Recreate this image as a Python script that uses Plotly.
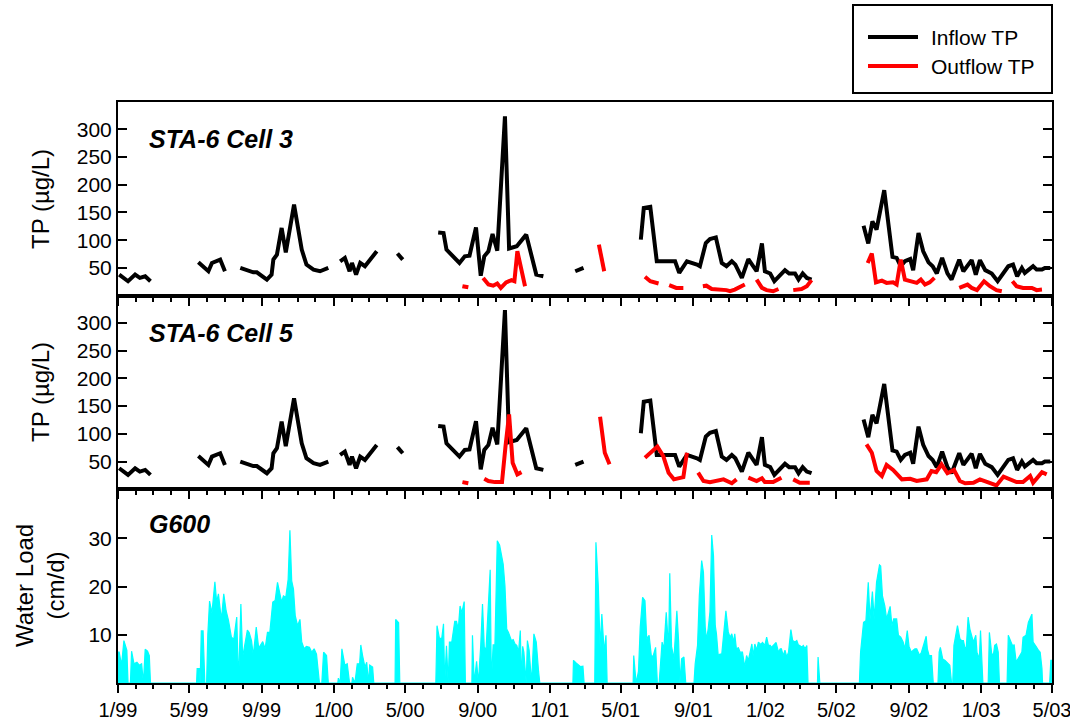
import pandas as pd
import plotly.graph_objects as go

BASE = pd.Timestamp("1999-01-01")
X_RANGE = ["1999-01-01", "2003-05-01"]
X_TICK_DATES = ["1999-01-01", "1999-05-01", "1999-09-01", "2000-01-01", "2000-05-01",
                "2000-09-01", "2001-01-01", "2001-05-01", "2001-09-01", "2002-01-01",
                "2002-05-01", "2002-09-01", "2003-01-01", "2003-05-01"]
X_TICK_LABELS = ["1/99", "5/99", "9/99", "1/00", "5/00", "9/00", "1/01", "5/01", "9/01",
                 "1/02", "5/02", "9/02", "1/03", "5/03"]

# ---------------- Inflow TP (same inflow for both cells), days since 1/1/99 ----------------
INFLOW_DAY = [
    [2, 17, 29, 37, 46, 55],
    [136, 153, 159, 173, 181],
    [207, 229, 235, 252, 260, 263, 269, 277, 284, 298, 311, 319, 331, 342, 356],
    [376, 384, 392, 396, 403, 410, 418, 427, 438],
    [473, 482],
    [542, 551, 556, 568, 578, 587, 595, 606, 614, 620, 627, 634, 642, 655, 662, 675, 691, 708, 720],
    [774, 788],
    [885, 890, 901, 912, 923, 943, 950, 963, 980, 985, 995, 1002, 1012, 1022, 1030, 1039, 1045,
     1056, 1067, 1081, 1090, 1095, 1104, 1111, 1129, 1136, 1146, 1152, 1159, 1166, 1174],
    [1262, 1270, 1277, 1284, 1297, 1311, 1318, 1325, 1332, 1341, 1346, 1355, 1363, 1372, 1379, 1386,
     1395, 1404, 1411, 1424, 1431, 1445, 1452, 1459, 1468, 1479, 1489, 1507, 1515, 1522, 1530, 1535,
     1549, 1555, 1564, 1569, 1578],
]
INFLOW_TP = [
    [38, 26, 38, 32, 35, 26],
    [60, 44, 59, 65, 44],
    [50, 42, 42, 29, 38, 65, 74, 122, 78, 164, 83, 56, 47, 44, 50],
    [62, 68, 44, 59, 38, 59, 53, 65, 80],
    [76, 65],
    [114, 113, 83, 70, 59, 71, 72, 123, 36, 71, 80, 111, 81, 323, 85, 89, 110, 38, 35],
    [44, 50],
    [101, 158, 160, 62, 62, 62, 41, 62, 56, 53, 95, 102, 105, 59, 53, 62, 56,
     32, 66, 44, 94, 44, 40, 26, 46, 40, 40, 29, 40, 32, 29],
    [126, 94, 134, 119, 190, 70, 68, 53, 62, 66, 46, 113, 80, 60, 53, 40,
     68, 40, 29, 65, 44, 64, 38, 64, 46, 40, 26, 53, 56, 35, 50, 41,
     53, 47, 47, 50, 50],
]

# ---------------- Outflow TP, Cell 3 ----------------
OUT3_DAY = [
    [583, 593],
    [618, 627, 635, 642, 648, 657, 666, 671, 676, 682, 689],
    [814, 823],
    [892, 901, 915],
    [933, 945, 957],
    [990, 996, 1005, 1019, 1030, 1036, 1044, 1061],
    [1081, 1090, 1098, 1109, 1118],
    [1143, 1157, 1166, 1174],
    [1269, 1276, 1283, 1293, 1301, 1312, 1318, 1325, 1332, 1343, 1352, 1359, 1366, 1374, 1382],
    [1424, 1434, 1438, 1445, 1454, 1466, 1476, 1487, 1496],
    [1514, 1521, 1532, 1547, 1555, 1564],
]
OUT3_TP = [
    [17, 15],
    [32, 20, 18, 22, 14, 24, 28, 26, 80, 50, 17],
    [92, 44],
    [34, 26, 22],
    [19, 14, 14],
    [17, 18, 12, 11, 10, 8, 11, 20],
    [29, 14, 10, 8, 12],
    [10, 12, 17, 28],
    [59, 76, 24, 27, 23, 24, 20, 65, 29, 26, 23, 29, 20, 24, 32],
    [14, 17, 20, 14, 10, 26, 17, 10, 8],
    [26, 17, 14, 14, 10, 11],
]

# ---------------- Outflow TP, Cell 5 ----------------
OUT5_DAY = [
    [583, 593],
    [620, 627, 638, 650, 656, 662, 668, 676, 683],
    [816, 824, 832],
    [892, 901, 913, 923, 932, 941, 957, 963],
    [982, 991, 1002, 1013, 1025, 1039, 1047],
    [1067, 1081, 1090, 1095, 1109, 1123],
    [1143, 1154, 1171],
    [1267, 1276, 1284, 1293, 1301, 1312, 1327, 1341, 1352, 1369, 1377, 1385, 1394, 1404, 1415,
     1425, 1434, 1448, 1459, 1473, 1487, 1499, 1510, 1521, 1532, 1544, 1549, 1564, 1572],
]
OUT5_TP = [
    [13, 11],
    [19, 15, 13, 13, 78, 135, 48, 27, 31],
    [131, 66, 45],
    [57, 66, 77, 60, 30, 18, 22, 66],
    [30, 15, 13, 15, 18, 11, 18],
    [21, 15, 20, 13, 13, 21],
    [18, 12, 12],
    [81, 66, 33, 24, 44, 35, 18, 19, 15, 18, 33, 31, 45, 29, 35,
     15, 11, 12, 18, 13, 7, 23, 18, 13, 13, 24, 12, 31, 27],
]

# ---------------- G600 water load (cm/d) ----------------
LOAD_DAY_1999 = [0, 2, 6, 10, 15, 17, 21, 23, 27, 32, 36, 40, 43, 46, 50, 53, 55, 133,
                 134, 138, 139, 141, 144, 147, 150, 152, 155, 159, 164, 167, 170, 173, 175, 179,
                 183, 187, 192, 196, 201, 204, 208, 211, 215, 219, 222, 226, 229, 234, 238, 240,
                 245, 249, 253, 257, 262, 266, 270, 274, 277, 280, 284, 288, 291, 294, 297, 300,
                 304, 308, 311, 315, 319, 324, 328, 332, 336, 341, 345, 348, 353, 356]
LOAD_1999 = [6.4, 6.4, 3.7, 8.8, 6.8, 0, 0, 6.6, 4, 4.3, 3.7, 4, 0, 7, 6.6, 5.7, 0, 0,
             3, 3, 0, 10.8, 10.8, 0, 0, 10, 17, 14.5, 21, 16.8, 18.5, 14.5, 13.1, 18.5,
             15, 13, 9.5, 9.1, 13.7, 0, 16.4, 5.4, 8.5, 11, 10.5, 8.8, 5.7, 11.6, 7.4, 7.6,
             8.6, 7.1, 10.5, 10.5, 16.8, 17.1, 20.9, 18.5, 16.8, 18.1, 17.8, 21.5, 31.7, 21.2, 19.5, 14,
             11.9, 13.2, 8.5, 7.1, 7.6, 7.4, 6.4, 7.1, 6, 0, 0, 6.4, 5.7, 0]

LOAD_DAY_2000 = [372, 373, 376, 379, 384, 388, 392, 396, 397, 401, 405, 409, 411, 414, 418, 421,
                 424, 426, 431, 433, 469, 470, 475, 477, 538, 540, 544, 548, 551, 553, 556, 559,
                 561, 565, 568, 570, 573, 576, 579, 582, 586, 588, 599, 600, 603, 607, 610, 614,
                 617, 620, 623, 627, 630, 632, 635, 638, 642, 646, 649, 652, 655, 658, 661, 664,
                 666, 669, 672, 675, 678, 681, 683, 685, 687, 691, 693, 696, 700, 704, 708, 712, 714]
LOAD_2000 = [0, 1, 0, 7.1, 3.7, 4, 0, 0, 1.2, 0, 4, 4, 7.9, 5.7, 3.3, 4.3,
             0, 3.7, 3.3, 0, 0, 13.2, 12.5, 0, 0, 11.9, 9.3, 9.2, 12.3, 0, 7.7, 0,
             8.5, 8.5, 11.2, 12.8, 12.8, 11.2, 16, 14.6, 16.9, 0, 0, 9.9, 0, 4.5, 0, 7.8,
             16.4, 7.4, 7, 17.4, 23.5, 0, 7.9, 7.9, 29.5, 28.6, 26.8, 24.7, 20.2, 11.2, 10.5, 9.2,
             8.8, 9, 8.1, 7.8, 6.4, 10.9, 0, 7.6, 6.4, 0, 8.8, 6.8, 0, 10.2, 8.5, 2.3, 0]

LOAD_DAY_2001 = [770, 771, 775, 779, 783, 787, 789, 807, 809, 813, 816, 819, 823, 826, 828, 872,
                 873, 877, 881, 884, 888, 892, 895, 899, 903, 906, 910, 913, 916, 921, 924, 928,
                 932, 934, 937, 941, 946, 949, 951, 954, 958, 961, 975, 977, 981, 984, 988, 991,
                 994, 996, 999, 1002, 1005, 1008, 1011, 1013, 1016, 1019, 1022, 1026, 1029, 1033,
                 1036, 1039, 1042, 1044, 1047, 1050, 1053, 1057, 1061, 1064, 1067, 1070, 1073,
                 1075, 1078, 1081, 1084, 1088, 1091, 1095]
LOAD_2001 = [0, 4.7, 4.2, 3.7, 3.4, 3.5, 0, 0, 29.2, 20.2, 7.4, 14.3, 6.4, 9.9, 0, 0,
             5.7, 0, 2.4, 11.6, 17.8, 17.1, 9.2, 9.9, 5.4, 5.7, 7.4, 0, 0, 8.5, 7.1, 14.7,
             7.1, 22.8, 7.6, 5, 15, 8.5, 0, 5, 5.4, 0, 0, 4, 7.8, 18.1, 25.4, 23,
             11.6, 9, 11.2, 14.8, 30.7, 26.4, 11.9, 10.2, 5.7, 6, 6, 11.2, 15, 10.6,
             9.5, 10.2, 8.5, 10.2, 6.8, 7.4, 6.4, 6.4, 3.3, 5.7, 4.7, 6.4, 8.1,
             5.7, 8.1, 6.8, 8.5, 8, 8.4, 7.8]

LOAD_DAY_2002 = [1098, 1101, 1104, 1106, 1110, 1114, 1118, 1121, 1123, 1126, 1129, 1132, 1135,
                 1138, 1139, 1142, 1146, 1149, 1152, 1154, 1157, 1160, 1163, 1166, 1168, 1184,
                 1185, 1188, 1255, 1257, 1262, 1266, 1270, 1273, 1277, 1280, 1284, 1289, 1291,
                 1294, 1298, 1301, 1307, 1310, 1313, 1318, 1321, 1325, 1329, 1332, 1336, 1339,
                 1343, 1346, 1349, 1352, 1355, 1357, 1360, 1363, 1368, 1370, 1373, 1377, 1380,
                 1388, 1390, 1392, 1396, 1400, 1403, 1405, 1408, 1411, 1413, 1415, 1418, 1421,
                 1425, 1428, 1431, 1434, 1436, 1439, 1442, 1445, 1448, 1452, 1454, 1458, 1460,
                 1464, 1473, 1475, 1479, 1482, 1484, 1487, 1490, 1492, 1505, 1507, 1511, 1514,
                 1517, 1520, 1522, 1526, 1530, 1532, 1537, 1541, 1544, 1547, 1549, 1552, 1555,
                 1558, 1561, 1564, 1565, 1577, 1579, 1581]
LOAD_2002 = [9.5, 7.8, 7.8, 7.4, 7.9, 8.4, 6.4, 7.1, 7.1, 5.7, 6.8, 5.4, 6.4,
             9.2, 11.1, 8.8, 8.5, 8.8, 7.8, 7.8, 7.4, 7.8, 7.1, 7.8, 0, 0,
             5.4, 0, 0, 6.4, 12.6, 12.9, 20.9, 13.3, 19, 13.3, 20.9, 24.5, 24.3,
             18.1, 16, 13.3, 15.9, 11.9, 13.3, 13.3, 9.9, 9.5, 8.5, 7.1, 10.9, 7.6,
             6.4, 6.8, 7.1, 7.1, 6.4, 5.7, 6.4, 7.8, 9.7, 7.1, 5.7, 5.7, 0,
             0, 6.4, 7.4, 5, 4.7, 4.3, 4.2, 3.7, 0, 0, 7.8, 9.5, 11.9,
             9.2, 8.8, 8.8, 7.1, 7.4, 13.7, 11.2, 9.9, 8.5, 9.9, 6.4, 5, 10.9,
             0, 0, 10.5, 6, 6, 7.8, 8.1, 6.4, 0, 0, 9.9, 8.8, 7.8,
             7.9, 4.7, 4.7, 5.7, 6.4, 9.5, 9.9, 12.6, 13.3, 14.3, 8.5, 7.8, 7.4,
             6.8, 6.4, 3, 0, 0, 4.7, 4.7]

TP_TICKS = [50, 100, 150, 200, 250, 300]
LOAD_TICKS = [10, 20, 30]

FONT = "Liberation Sans, Arial, sans-serif"


def to_dates(days):
    return [BASE + pd.Timedelta(days=d) for d in days]


def segments(day_lists, val_lists):
    xs, ys = [], []
    for d, v in zip(day_lists, val_lists):
        xs += to_dates(d) + [None]
        ys += list(v) + [None]
    return xs, ys


fig = go.Figure()

LW = 4
for xa, ya, out_d, out_v in [("x", "y", OUT3_DAY, OUT3_TP), ("x2", "y2", OUT5_DAY, OUT5_TP)]:
    ix, iy = segments(INFLOW_DAY, INFLOW_TP)
    fig.add_trace(go.Scatter(x=ix, y=iy, mode="lines", xaxis=xa, yaxis=ya,
                             line=dict(color="black", width=LW), connectgaps=False,
                             showlegend=False, name="Inflow TP"))
    ox, oy = segments(out_d, out_v)
    fig.add_trace(go.Scatter(x=ox, y=oy, mode="lines", xaxis=xa, yaxis=ya,
                             line=dict(color="#FF0000", width=LW), connectgaps=False,
                             showlegend=False, name="Outflow TP"))

load_days = LOAD_DAY_1999 + LOAD_DAY_2000 + LOAD_DAY_2001 + LOAD_DAY_2002
load_vals = LOAD_1999 + LOAD_2000 + LOAD_2001 + LOAD_2002
fig.add_trace(go.Scatter(x=to_dates(load_days), y=load_vals, mode="lines", xaxis="x3", yaxis="y3",
                         fill="tozeroy", fillcolor="#00FFFF",
                         line=dict(color="#00FFFF", width=1.2), showlegend=False, name="G600"))

xcommon = dict(type="date", range=X_RANGE, tickmode="array", tickvals=X_TICK_DATES,
               ticktext=X_TICK_LABELS,
               ticks="outside", ticklen=8, tickwidth=2, tickcolor="black",
               showline=True, linewidth=2, linecolor="black", mirror=True,
               showgrid=False, zeroline=False, automargin=False,
               minor=dict(tickmode="linear", dtick="M1", tick0="1999-01-01", ticks="outside",
                          ticklen=4, tickwidth=1.5, tickcolor="black", showgrid=False),
               tickfont=dict(family=FONT, size=20, color="black"))
ycommon = dict(ticks="inside", ticklen=9, tickwidth=2, tickcolor="black",
               showline=True, linewidth=2, linecolor="black", mirror="ticks",
               showgrid=False, zeroline=False, automargin=False,
               tickfont=dict(family=FONT, size=21, color="black"))

fig.update_layout(
    width=1070, height=727,
    margin=dict(l=118, r=18, t=102, b=44, autoexpand=False),
    plot_bgcolor="white", paper_bgcolor="white",
    xaxis=dict(xcommon, anchor="y", showticklabels=False),
    xaxis2=dict(xcommon, anchor="y2", matches="x", showticklabels=False),
    xaxis3=dict(xcommon, anchor="y3", matches="x", showticklabels=True,
                ticklabelstandoff=0, ticklabeloverflow="allow"),
    yaxis=dict(ycommon, domain=[2 / 3, 1], range=[0, 349], tickvals=TP_TICKS, anchor="x"),
    yaxis2=dict(ycommon, domain=[1 / 3, 2 / 3], range=[0, 349], tickvals=TP_TICKS, anchor="x2"),
    yaxis3=dict(ycommon, domain=[0, 1 / 3], range=[0, 40.2], tickvals=LOAD_TICKS, anchor="x3"),
    showlegend=False,
)

H = 581.0


def py(pix):
    return (683 - pix) / H


def px(pix):
    return (pix - 118) / 934.0


ann = []
for text, ypix in [("STA-6 Cell 3", 139), ("STA-6 Cell 5", 333), ("G600", 524)]:
    ann.append(dict(text="<b><i>" + text + "</i></b>", x=px(147), y=py(ypix), xref="paper", yref="paper",
                    xanchor="left", yanchor="middle", showarrow=False,
                    font=dict(family=FONT, size=25, color="black")))
for text, ypix in [("TP (µg/L)", 199), ("TP (µg/L)", 392), ("Water Load<br>(cm/d)", 586)]:
    ann.append(dict(text=text, x=px(40), y=py(ypix), xref="paper", yref="paper", textangle=-90,
                    xanchor="center", yanchor="middle", showarrow=False,
                    font=dict(family=FONT, size=24, color="black")))

# legend box
shapes = [dict(type="rect", xref="paper", yref="paper", x0=px(853), x1=px(1052), y0=py(93), y1=py(5),
               line=dict(color="black", width=2), fillcolor="white")]
for color, label, ypix in [("black", "Inflow TP", 37), ("#FF0000", "Outflow TP", 66)]:
    shapes.append(dict(type="line", xref="paper", yref="paper", x0=px(868), x1=px(918),
                       y0=py(ypix), y1=py(ypix), line=dict(color=color, width=4)))
    ann.append(dict(text=label, x=px(929), y=py(ypix + 1), xref="paper", yref="paper",
                    xanchor="left", yanchor="middle", showarrow=False,
                    font=dict(family=FONT, size=21, color="black")))

fig.update_layout(annotations=ann, shapes=shapes)
fig.write_html("out.html")
